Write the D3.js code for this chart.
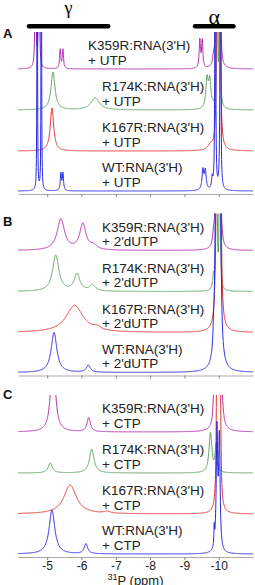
<!DOCTYPE html>
<html>
<head>
<meta charset="utf-8">
<script src="https://cdn.jsdelivr.net/npm/d3@7"></script>
<style>
  body { margin: 0; background: #fff; }
  svg { display: block; font-family: "Liberation Sans", Arial, sans-serif; }
</style>
</head>
<body>
<div id="chart"></div>
<script>
// samples, top to bottom in every panel
var samples     = ["K359R", "R174K", "K167R", "WT"];
var panels      = ["A", "B", "C"];
var nucleotides = ["UTP", "2'dUTP", "CTP"];
var ppmTicks    = [-5, -6, -7, -8, -9, -10];
var gammaRange  = [-4.47, -6.78];
var alphaRange  = [-9.31, -10.43];

// peaks: [ppm, height, half width in ppm]
var peaksUTP = [
  [[-4.66, 300, 0.01], [-4.76, 300, 0.01], [-5.38, 19, 0.02], [-5.46, 19, 0.02],
   [-9.45, 28, 0.022], [-9.52, 27, 0.022], [-9.85, 9, 0.03], [-9.94, 640, 0.01], [-10.03, 640, 0.01]],
  [[-5.17, 38, 0.07], [-6.40, 12, 0.15], [-9.66, 29, 0.04], [-9.74, 27, 0.04],
   [-9.95, 400, 0.01], [-10.03, 400, 0.01]],
  [[-5.14, 43, 0.06], [-9.76, 5, 0.08], [-9.96, 700, 0.012], [-10.03, 700, 0.012]],
  [[-4.71, 2000, 0.003], [-4.83, 2000, 0.003], [-5.40, 17, 0.02], [-5.46, 17, 0.02],
   [-9.54, 20, 0.03], [-9.61, 19, 0.03], [-9.81, 11, 0.02], [-9.90, 1600, 0.005], [-10.05, 1600, 0.005]]
];
var peaksDUTP = [
  [[-5.40, 31, 0.13], [-6.04, 26, 0.11], [-6.35, 4, 0.12], [-9.85, 10, 0.03],
   [-9.94, 800, 0.011], [-10.03, 800, 0.011]],
  [[-5.25, 36, 0.11], [-5.87, 17, 0.1], [-6.32, 6, 0.1], [-9.85, 14, 0.03],
   [-9.94, 500, 0.009], [-10.03, 500, 0.009]],
  [[-5.80, 27, 0.3], [-6.45, 3, 0.12], [-9.95, 475, 0.02], [-10.04, 475, 0.02]],
  [[-5.20, 40, 0.1], [-6.20, 7, 0.07], [-9.85, 14, 0.02], [-9.94, 1500, 0.014], [-10.02, 1500, 0.014]]
];
var peaksCTP = [
  [[-5.17, 90, 0.07], [-6.21, 14, 0.06], [-9.86, 28, 0.025], [-9.96, 700, 0.015], [-10.04, 700, 0.015]],
  [[-5.09, 10, 0.07], [-6.30, 24, 0.08], [-9.76, 40, 0.05], [-9.92, 26, 0.03]],
  [[-5.67, 29, 0.22], [-6.75, 2, 0.1], [-9.96, 700, 0.012], [-10.03, 700, 0.012]],
  [[-5.14, 44, 0.1], [-6.13, 10, 0.06], [-9.87, 18, 0.01], [-9.95, 120, 0.025], [-10.02, 110, 0.025]]
];
var panelPeaks = [peaksUTP, peaksDUTP, peaksCTP];

// layout
var width = 255, height = 585;
var colors = ["#b02cb0", "#62a062", "#e8302c", "#2828e4"];
var stackOffset = [125, 84, 43, 3];   // baseline of each trace above the axis, px
var panelH = 162, panelStep = 181.5, firstTop = 32;
var letterY = [38, 226, 399];

var x = d3.scaleLinear().domain([-4.15, -11.0]).range([18, 253]);

var svg = d3.select("#chart").append("svg")
    .attr("width", width)
    .attr("height", height);

// sum of lorentzian lines for one trace
function spectrum(peaks) {
  var lo = x.domain()[1], hi = x.domain()[0];
  var pts = d3.range(hi, lo, -0.004);
  peaks.forEach(function (p) {
    [-8, -4, -2, -1, -0.5, 0, 0.5, 1, 2, 4, 8].forEach(function (k) { pts.push(p[0] + k * p[2]); });
  });
  pts = pts.filter(function (v) { return v <= hi && v >= lo; }).sort(d3.descending);
  return pts.map(function (v) {
    var s = 0;
    peaks.forEach(function (p) { var d = (v - p[0]) / p[2]; s += p[1] / (1 + d * d); });
    return [v, s];
  });
}

// header bars for gamma and alpha regions
var head = svg.append("g");
[gammaRange, alphaRange].forEach(function (r) {
  head.append("line")
      .attr("x1", x(r[0])).attr("x2", x(r[1]))
      .attr("y1", 26.3).attr("y2", 26.3)
      .attr("stroke", "#000").attr("stroke-width", 4.5)
      .attr("stroke-linecap", "round");
});
head.append("text")
    .attr("x", (x(gammaRange[0]) + x(gammaRange[1])) / 2).attr("y", 14)
    .attr("text-anchor", "middle")
    .style("font-family", "'Liberation Serif', 'DejaVu Serif', serif")
    .style("font-size", "18px")
    .text("\u03B3");
head.append("text")
    .attr("x", (x(alphaRange[0]) + x(alphaRange[1])) / 2).attr("y", 23.5)
    .attr("text-anchor", "middle")
    .style("font-family", "'Liberation Serif', 'DejaVu Serif', serif")
    .style("font-size", "22px")
    .text("\u03B1");

panels.forEach(function (name, pi) {
  var top = firstTop + pi * panelStep,
      axisY = top + panelH;
  var y = d3.scaleLinear().domain([0, panelH]).range([axisY, top]);

  svg.append("clipPath").attr("id", "clip" + pi)
    .append("rect")
      .attr("x", x.range()[0]).attr("y", top)
      .attr("width", x.range()[1] - x.range()[0]).attr("height", panelH + 4);

  var g = svg.append("g");

  // axis
  var axis = d3.axisBottom(x)
      .tickValues(ppmTicks)
      .tickSize(3)
      .tickSizeOuter(0)
      .tickPadding(1.5)
      .tickFormat(function (d) { return pi == 2 ? String(d) : ""; });
  var ax = g.append("g")
      .attr("transform", "translate(0," + axisY + ")")
      .call(axis);
  ax.select(".domain").attr("stroke", "#aaa");
  ax.selectAll(".tick line").attr("stroke", "#888");
  ax.selectAll(".tick text")
      .attr("fill", "#222")
      .style("font-size", "12px")
      .style("font-family", "'Liberation Sans', Arial, sans-serif");

  // traces
  var line = d3.line()
      .x(function (d) { return x(d[0]); })
      .y(function (d) { return y(d[1]); });
  var traces = g.append("g").attr("clip-path", "url(#clip" + pi + ")");
  panelPeaks[pi].forEach(function (peaks, si) {
    var off = stackOffset[si];
    traces.append("path")
        .datum(spectrum(peaks).map(function (d) { return [d[0], d[1] + off]; }))
        .attr("fill", "none")
        .attr("stroke", colors[si])
        .attr("stroke-width", 1)
        .attr("d", line);
  });

  // sample labels
  samples.forEach(function (s, si) {
    var base = y(stackOffset[si]);
    var lx = (pi == 0 && si == 0) ? 88 : 102;
    var t = g.append("text")
        .attr("fill", "#222")
        .style("font-size", "13.5px");
    t.append("tspan").attr("x", lx).attr("y", base - 19).text(s + ":RNA(3'H)");
    t.append("tspan").attr("x", lx).attr("y", base - 4.5).text("+ " + nucleotides[pi]);
  });

  // panel letter
  g.append("text")
      .attr("x", 3).attr("y", letterY[pi])
      .style("font-size", "13px")
      .style("font-weight", "bold")
      .attr("fill", "#111")
      .text(name);
});

// x axis title
var title = svg.append("text")
    .attr("x", (x.range()[0] + x.range()[1]) / 2)
    .attr("y", 584.5)
    .attr("text-anchor", "middle")
    .attr("fill", "#222")
    .style("font-size", "13px");
title.append("tspan").attr("dy", -5).style("font-size", "9px").text("31");
title.append("tspan").attr("dy", 5).text("P (ppm)");
</script>
</body>
</html>
